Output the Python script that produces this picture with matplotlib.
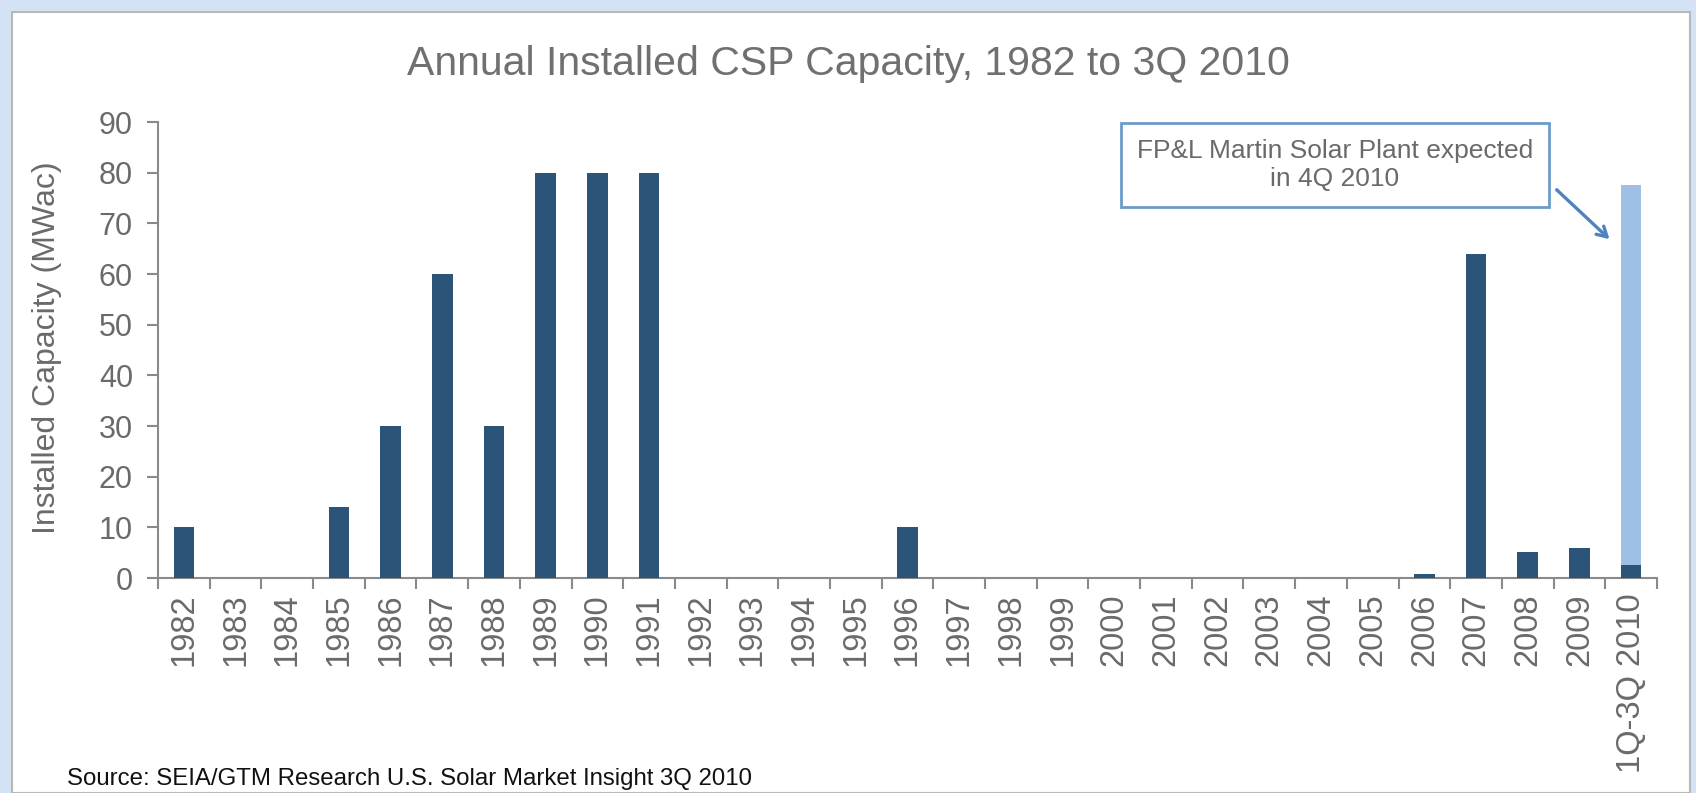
import matplotlib
matplotlib.use("Agg")
import matplotlib.pyplot as plt
import numpy as np
from matplotlib.patches import Rectangle

# Data
years = [str(y) for y in range(1982, 2010)] + ["1Q-3Q 2010"]
installed = [10, 0, 0, 14, 30, 60, 30, 80, 80, 80,
             0, 0, 0, 0, 10, 0, 0, 0, 0, 0,
             0, 0, 0, 0, 0.8, 64, 5.2, 6, 2.5]
expected_4q = [0] * 28 + [75]

y_ticks = list(range(0, 100, 10))

title = "Annual Installed CSP Capacity, 1982 to 3Q 2010"
y_label = "Installed Capacity (MWac)"
note = "FP&L Martin Solar Plant expected\nin 4Q 2010"
source = "Source: SEIA/GTM Research U.S. Solar Market Insight 3Q 2010"

DARK = "#2c5378"
LIGHT = "#9fc0e5"
GREY_TXT = "#6a6a6a"
AXIS = "#8a8a8a"

plt.rcParams["font.family"] = ["Liberation Sans", "DejaVu Sans"]

W, H = 1696, 793
fig = plt.figure(figsize=(W / 100, H / 100), dpi=100)
fig.patch.set_facecolor("#d3e3f5")

# white slide panel behind everything
fig.patches.append(Rectangle((12 / W, 0), (1690 - 12) / W, 1 - 12 / H,
                             transform=fig.transFigure, facecolor="white",
                             edgecolor="#b8b8b8", linewidth=1.5, zorder=-10))

ax = fig.add_axes([158 / W, 1 - 578 / H, 1499 / W, 456 / H])
ax.set_facecolor("none")

x = np.arange(len(years))
ax.bar(x, installed, width=0.4, color=DARK, zorder=3)
ax.bar(x, expected_4q, width=0.4, bottom=installed, color=LIGHT, zorder=3)

ax.set_xlim(-0.5, len(years) - 0.5)
ax.set_ylim(0, 90)
ax.set_yticks(y_ticks)
ax.set_xticks(x)
ax.set_xticklabels(years, rotation=90)
ax.set_xticks(np.arange(-0.5, len(years)), minor=True)

for side in ["top", "right"]:
    ax.spines[side].set_visible(False)
for side in ["left", "bottom"]:
    ax.spines[side].set_color(AXIS)
    ax.spines[side].set_linewidth(1.5)

ax.tick_params(axis="x", which="major", length=0, pad=11,
               labelsize=23.5, labelcolor=GREY_TXT)
ax.tick_params(axis="x", which="minor", length=8, width=1.5, color=AXIS)
ax.tick_params(axis="y", length=8, width=1.5, color=AXIS, pad=10,
               labelsize=22, labelcolor=GREY_TXT)

fig.text(848 / W, 1 - 64 / H, title, ha="center", va="center",
         fontsize=29.5, color="#707070")
fig.text(47 / W, 1 - 348 / H, y_label, rotation=90, ha="center", va="center",
         fontsize=23, color=GREY_TXT)
fig.text(67 / W, 1 - 779 / H, source, ha="left", va="center",
         fontsize=17.3, color="#111111")

# callout for the expected 4Q 2010 plant
ax.annotate("", xy=(27.62, 66.5), xytext=(26.52, 77.0),
            arrowprops=dict(arrowstyle="->,head_length=0.7,head_width=0.4",
                            color="#4f82c0", lw=2.4), zorder=5)
ax.text(22.27, 81.5, note, ha="center", va="center", fontsize=19,
        color=GREY_TXT, linespacing=1.25, zorder=5,
        bbox=dict(boxstyle="square,pad=0.6", facecolor="white",
                  edgecolor="#6d9acb", linewidth=2))

fig.savefig("out.png", dpi=100, facecolor=fig.get_facecolor())
